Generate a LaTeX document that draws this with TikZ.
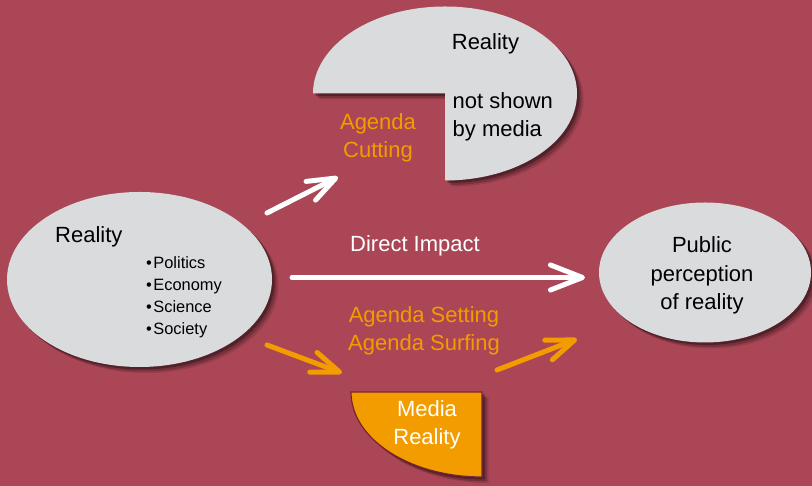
\documentclass[tikz,border=0pt]{standalone}
\usepackage{fontspec}
\setmainfont{Liberation Sans}
\usetikzlibrary{arrows.meta,shadows,shapes.geometric}
\definecolor{bg}{RGB}{170,70,86}
\definecolor{pale}{RGB}{218,219,220}
\definecolor{orng}{RGB}{243,156,0}
\definecolor{darkrim}{RGB}{120,35,50}
\begin{document}
\begin{tikzpicture}[x=1pt,y=1pt,
  softshadow/.style={
    drop shadow={shadow xshift=2.5pt,shadow yshift=-2.5pt,opacity=.30,fill=black},
    drop shadow={shadow xshift=4.5pt,shadow yshift=-4.5pt,opacity=.20,fill=black},
    drop shadow={shadow xshift=6.5pt,shadow yshift=-6pt,opacity=.12,fill=black}},
  blob/.style={ellipse,fill=pale,inner sep=0pt,softshadow},
  bigtxt/.style={font=\fontsize{22}{28.5}\selectfont,align=center,inner sep=0pt},
  smalltxt/.style={font=\fontsize{16.4}{22}\selectfont,align=left,inner sep=0pt},
  warrow/.style={draw=white,line width=5pt,line cap=round,line join=round,
    -{Straight Barb[length=28pt,width=21pt,round]}},
  bigwarrow/.style={warrow,-{Straight Barb[length=32pt,width=25pt,round]}},
  oarrow/.style={warrow,draw=orng}]
\fill[bg] (0,0) rectangle (812,486);
\useasboundingbox (0,0) rectangle (812,486);

% shapes
\node[blob,minimum width=265pt,minimum height=175pt] (left) at (139.5,206.5) {};
\node[blob,minimum width=212pt,minimum height=140pt] (right) at (705,213.5) {};
\coordinate (topc) at (445,392.5);
\path[fill=pale,softshadow] (313,392.5) arc[start angle=180,end angle=-90,x radius=132,y radius=87] -- (topc) -- cycle;
\coordinate (medc) at (482,94);
\path[fill=orng,draw=darkrim,line width=1.2pt,softshadow] (351,94) arc[start angle=180,end angle=270,x radius=131,y radius=85] -- (482,9) -- (medc) -- cycle;

% texts (multi-line nodes: base = last line)
\node[bigtxt,anchor=base] (topreal) at (485.5,436) {Reality};
\node[bigtxt,anchor=base west,align=left] (notshown) at (452.5,349) {not shown\\by media};
\node[bigtxt,anchor=base,text=orng] (cutting) at (378,328) {Agenda\\Cutting};
\node[bigtxt,anchor=base west] (leftreal) at (55,243) {Reality};
\node[smalltxt,anchor=base west] (bullets) at (146,151) {•\hspace{1.5pt}Politics\\•\hspace{1.5pt}Economy\\•\hspace{1.5pt}Science\\•\hspace{1.5pt}Society};
\node[bigtxt,anchor=base,text=white] (direct) at (415,234) {Direct Impact};
\node[bigtxt,anchor=base] (public) at (702,176) {Public\\perception\\of reality};
\node[bigtxt,anchor=base,text=orng] (setting) at (424,135) {Agenda Setting\\Agenda Surfing};
\node[bigtxt,anchor=base,text=white] (media) at (427,41) {Media\\Reality};

% arrows
\coordinate (w1a) at (267,273);
\coordinate (w1b) at (338,309);
\coordinate (w2a) at (292,208.5);
\coordinate (w2b) at (585,208.5);
\coordinate (o1a) at (267,141);
\coordinate (o1b) at (342,113);
\coordinate (o2a) at (497,116);
\coordinate (o2b) at (577,147);
\draw[warrow] (w1a) -- (w1b);
\draw[bigwarrow] (w2a) -- (w2b);
\draw[oarrow] (o1a) -- (o1b);
\draw[oarrow] (o2a) -- (o2b);
\end{tikzpicture}
\end{document}
